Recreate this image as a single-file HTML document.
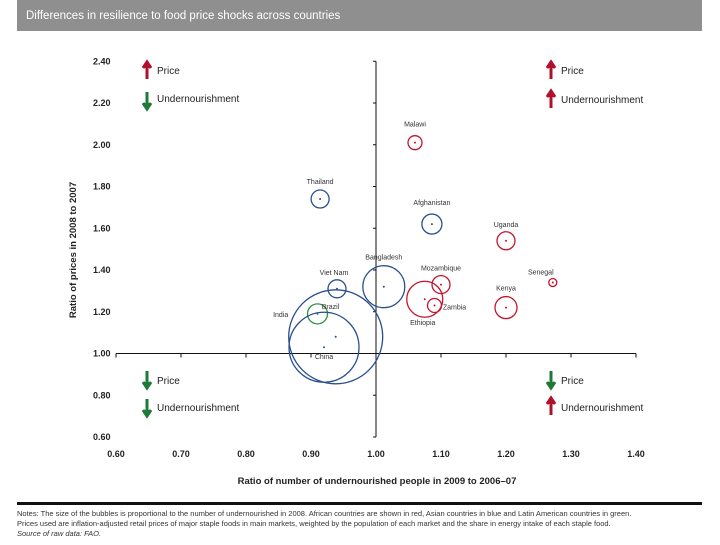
<!DOCTYPE html>
<html><head><meta charset="utf-8"><style>
body{margin:0;width:720px;height:540px;background:#fff;font-family:"Liberation Sans",sans-serif;overflow:hidden}
svg text{font-family:"Liberation Sans",sans-serif}
</style></head><body>
<svg id="c" width="720" height="540">
<rect x="17" y="0" width="685" height="31" fill="#8f8f8f"/>
<text x="26" y="19" font-size="11.5" fill="#fff">Differences in resilience to food price shocks across countries</text>
<g id="axes"></g><g id="bubbles"></g>
<g font-size="10" fill="#222">
<path d="M147 79 V63 M143 68 L147 62 L151 68" stroke="#b0102a" stroke-width="3" fill="#b0102a"/>
<text x="157" y="74">Price</text>
<path d="M147 92 V108 M143 103 L147 109 L151 103" stroke="#1f7a3a" stroke-width="3" fill="#1f7a3a"/>
<text x="157" y="102">Undernourishment</text>
<path d="M551 79 V63 M547 68 L551 62 L555 68" stroke="#b0102a" stroke-width="3" fill="#b0102a"/>
<text x="561" y="74">Price</text>
<path d="M551 108 V92 M547 97 L551 91 L555 97" stroke="#b0102a" stroke-width="3" fill="#b0102a"/>
<text x="561" y="103">Undernourishment</text>
<path d="M147 371 V387 M143 382 L147 388 L151 382" stroke="#1f7a3a" stroke-width="3" fill="#1f7a3a"/>
<text x="157" y="384">Price</text>
<path d="M147 399 V415 M143 410 L147 416 L151 410" stroke="#1f7a3a" stroke-width="3" fill="#1f7a3a"/>
<text x="157" y="411">Undernourishment</text>
<path d="M551 371 V387 M547 382 L551 388 L555 382" stroke="#1f7a3a" stroke-width="3" fill="#1f7a3a"/>
<text x="561" y="384">Price</text>
<path d="M551 415 V399 M547 404 L551 398 L555 404" stroke="#b0102a" stroke-width="3" fill="#b0102a"/>
<text x="561" y="411">Undernourishment</text>
</g>
<text x="377" y="484" font-size="9.5" font-weight="bold" text-anchor="middle" fill="#222">Ratio of number of undernourished people in 2009 to 2006–07</text>
<text transform="translate(76,250) rotate(-90)" font-size="9.5" font-weight="bold" text-anchor="middle" fill="#222">Ratio of prices in 2008 to 2007</text>
<rect x="17" y="502" width="685" height="3" fill="#111"/>
<g font-size="7.5" fill="#333">
<text x="17" y="516">Notes: The size of the bubbles is proportional to the number of undernourished in 2008. African countries are shown in red, Asian countries in blue and Latin American countries in green.</text>
<text x="17" y="526">Prices used are inflation-adjusted retail prices of major staple foods in main markets, weighted by the population of each market and the share in energy intake of each staple food.</text>
<text x="17" y="536" font-style="italic">Source of raw data: FAO.</text>
</g>
</svg>
<script>
const countries=["Malawi","Thailand","Afghanistan","Uganda","Bangladesh","Viet Nam","Mozambique","Senegal","Ethiopia","Zambia","Kenya","Brazil","India","China"];
const xVals=[1.06,0.914,1.086,1.20,1.012,0.94,1.10,1.272,1.075,1.09,1.20,0.91,0.938,0.92];
const yVals=[2.01,1.74,1.62,1.54,1.32,1.31,1.33,1.34,1.26,1.23,1.22,1.19,1.08,1.03];
const sizes=[7,9,10,9,21,9,9,4,18,7,11,10,47,35];
const colors=["red","blue","blue","red","blue","blue","red","red","red","red","red","green","blue","blue"];
const xTicks=[0.6,0.7,0.8,0.9,1.0,1.1,1.2,1.3,1.4];
const yTicks=[0.6,0.8,1.0,1.2,1.4,1.6,1.8,2.0,2.2,2.4];
const labelOff=[[0,-16],[0,-15],[0,-19],[0,-14],[0,-27],[-3,-14],[0,-14],[-12,-8],[-2,26],[20,4],[0,-17],[13,-5],[-55,-20],[0,12]];
const X=v=>116+(v-0.6)*650, Y=v=>437-(v-0.6)*208.75;
const NS="http://www.w3.org/2000/svg", pal={red:"#c4142e",blue:"#2a4f8f",green:"#2f8f3f"};
function mk(t,a,p){const e=document.createElementNS(NS,t);for(const k in a)e.setAttribute(k,a[k]);p.appendChild(e);return e;}
const ax=document.getElementById('axes'), bb=document.getElementById('bubbles');
const va=mk('line',{x1:X(1),x2:X(1),y1:Y(2.4),y2:Y(0.6),stroke:"#111"},ax);

const ha=mk('line',{x1:X(0.6),x2:X(1.4),y1:Y(1),y2:Y(1),stroke:"#111"},ax);

xTicks.forEach(v=>{
 mk('line',{x1:X(v),x2:X(v),y1:Y(1),y2:Y(1)+4,stroke:"#111"},ax);
 const t=mk('text',{x:X(v),y:457,"font-size":"9","font-weight":"bold","text-anchor":"middle",fill:"#222"},ax);t.textContent=v.toFixed(2);
 
});
yTicks.forEach(v=>{
 mk('line',{x1:X(1),x2:X(1)-3,y1:Y(v),y2:Y(v),stroke:"#111"},ax);
 const t=mk('text',{x:93,y:Y(v)+3,"font-size":"9","font-weight":"bold",fill:"#222"},ax);t.textContent=v.toFixed(2);
 
});
countries.forEach((c,i)=>{
 const cx=X(xVals[i]),cy=Y(yVals[i]),col=pal[colors[i]];
 const ci=mk('circle',{cx,cy,r:sizes[i],fill:"none",stroke:col,"stroke-width":"1.3"},bb);
 
 
 mk('circle',{cx,cy,r:1,fill:col},bb);
 const t=mk('text',{x:cx+labelOff[i][0],y:cy+labelOff[i][1],"font-size":"7","text-anchor":"middle",fill:"#333"},bb);t.textContent=c;
 
});
</script>
</body></html>
